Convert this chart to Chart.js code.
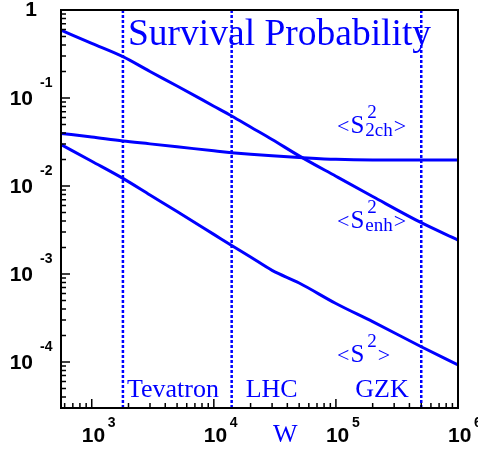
<!DOCTYPE html>
<html>
<head>
<meta charset="utf-8">
<script src="https://cdn.jsdelivr.net/npm/chart.js@4"></script>
<style>
  body { margin: 0; background: #fff; }
  canvas { display: block; }
</style>
</head>
<body>
<canvas id="my-chart" width="478" height="452"></canvas>
<script>
// energies W (GeV) and survival probabilities
const energies = [560, 1000, 1800, 3000, 5000, 10000, 14000, 20000, 30000, 50000, 100000, 200000, 500000, 1000000];
const sEnh = [0.589, 0.418, 0.295, 0.200, 0.137, 0.0807, 0.0624, 0.0468, 0.0338, 0.0220, 0.0129, 0.0076, 0.00383, 0.00243];
const s2ch = [0.0396, 0.0360, 0.0324, 0.0301, 0.0279, 0.0251, 0.0239, 0.0229, 0.0220, 0.0211, 0.0201, 0.0198, 0.0198, 0.0198];
const s2 = [0.0296, 0.0191, 0.0122, 0.0079, 0.00512, 0.00282, 0.00211, 0.00156, 0.0011, 0.00079, 0.000462, 0.000287, 0.000149, 0.0000925];

const colliders = ["Tevatron", "LHC", "GZK"];
const colliderEnergies = [1800, 14000, 500000];

const xTickPowers = [3, 4, 5, 6];
const yTickPowers = [0, -1, -2, -3, -4];
const xMin = 560;
const xMax = 1e6;
const yMin = 3e-5;
const yMax = 1;

const blue = "#0000ff";

function points(values) {
    return energies.map((e, i) => ({ x: e, y: values[i] }));
}

function curve(values) {
    return {
        data: points(values),
        borderColor: blue,
        borderWidth: 3,
        pointRadius: 0,
        fill: false,
        cubicInterpolationMode: "monotone"
    };
}

const datasets = [curve(sEnh), curve(s2ch), curve(s2)];
colliderEnergies.forEach(e => {
    datasets.push({
        data: [{ x: e, y: yMin }, { x: e, y: yMax }],
        borderColor: blue,
        borderWidth: 2.5,
        borderDash: [3, 2],
        pointRadius: 0,
        fill: false
    });
});

// <S^2_sub> style label
function sLabel(ctx, x, y, sub) {
    ctx.font = "22px 'Liberation Serif'";
    ctx.fillText("<", x, y);
    x += ctx.measureText("<").width + 1;
    ctx.font = "25px 'Liberation Serif'";
    ctx.fillText("S", x, y);
    x += ctx.measureText("S").width + 1;
    ctx.font = "19px 'Liberation Serif'";
    ctx.fillText("2", x + 2, y - 15);
    let w = ctx.measureText("2").width + 2;
    if (sub) {
        ctx.fillText(sub, x, y + 3);
        w = Math.max(w, ctx.measureText(sub).width);
    }
    x += w + 1;
    ctx.font = "22px 'Liberation Serif'";
    ctx.fillText(">", x, y);
}

const decorations = {
    id: "decorations",
    afterDatasetsDraw(chart) {
        const ctx = chart.ctx;
        const { left, right, top, bottom } = chart.chartArea;
        const xs = chart.scales.x;
        const ys = chart.scales.y;
        ctx.save();

        // frame
        ctx.strokeStyle = "#000";
        ctx.lineWidth = 2;
        ctx.strokeRect(left, top, right - left, bottom - top);

        // inward ticks
        ctx.lineWidth = 1.5;
        ctx.beginPath();
        for (let p = 2; p <= 6; p++) {
            for (let m = 1; m < 10; m++) {
                const v = m * Math.pow(10, p);
                if (v < xMin || v > xMax) continue;
                const px = xs.getPixelForValue(v);
                const len = m === 1 ? 9 : 5;
                ctx.moveTo(px, bottom);
                ctx.lineTo(px, bottom - len);
            }
        }
        for (let p = -5; p <= 0; p++) {
            for (let m = 1; m < 10; m++) {
                const v = m * Math.pow(10, p);
                if (v < yMin || v > yMax * 1.0001) continue;
                const py = ys.getPixelForValue(v);
                const len = m === 1 ? 9 : 5;
                ctx.moveTo(left, py);
                ctx.lineTo(left + len, py);
            }
        }
        ctx.stroke();

        // tick labels
        ctx.fillStyle = "#000";
        ctx.textBaseline = "alphabetic";
        xTickPowers.forEach(p => {
            const px = xs.getPixelForValue(Math.pow(10, p));
            ctx.font = "bold 21px 'Liberation Sans'";
            ctx.textAlign = "left";
            ctx.fillText("10", px - 10, 442);
            ctx.font = "bold 14px 'Liberation Sans'";
            ctx.fillText(String(p), px + 16, 427);
        });
        yTickPowers.forEach(p => {
            const py = ys.getPixelForValue(Math.pow(10, p));
            ctx.textAlign = "right";
            ctx.font = "bold 21px 'Liberation Sans'";
            if (p === 0) {
                ctx.fillText("1", 37, py + 6);
                return;
            }
            ctx.fillText("10", 33, py + 7);
            ctx.textAlign = "left";
            ctx.font = "bold 14px 'Liberation Sans'";
            ctx.fillText(String(p), 40, py - 11);
        });

        // blue texts
        ctx.fillStyle = blue;
        ctx.textAlign = "left";
        ctx.font = "37.5px 'Liberation Serif'";
        ctx.fillText("Survival Probability", 128, 45);

        ctx.font = "26px 'Liberation Serif'";
        const offsets = [4, 14, -66];
        colliders.forEach((name, i) => {
            const px = xs.getPixelForValue(colliderEnergies[i]);
            ctx.fillText(name, px + offsets[i], 397);
        });
        ctx.fillText("W", 273, 442);

        sLabel(ctx, 337, 133, "2ch");
        sLabel(ctx, 337, 228, "enh");
        sLabel(ctx, 337, 362, "");

        ctx.restore();
    }
};

new Chart(document.getElementById("my-chart").getContext("2d"), {
    type: "line",
    data: { datasets },
    options: {
        responsive: false,
        animation: false,
        devicePixelRatio: 1,
        layout: { padding: { left: 61, top: 10, right: 20, bottom: 44 } },
        plugins: { legend: { display: false }, tooltip: { enabled: false } },
        scales: {
            x: {
                type: "logarithmic",
                min: xMin,
                max: xMax,
                grid: { display: false },
                border: { display: false },
                ticks: { display: false },
                afterFit: s => { s.height = 0; }
            },
            y: {
                type: "logarithmic",
                min: yMin,
                max: yMax,
                grid: { display: false },
                border: { display: false },
                ticks: { display: false },
                afterFit: s => { s.width = 0; }
            }
        }
    },
    plugins: [decorations]
});
</script>
</body>
</html>
